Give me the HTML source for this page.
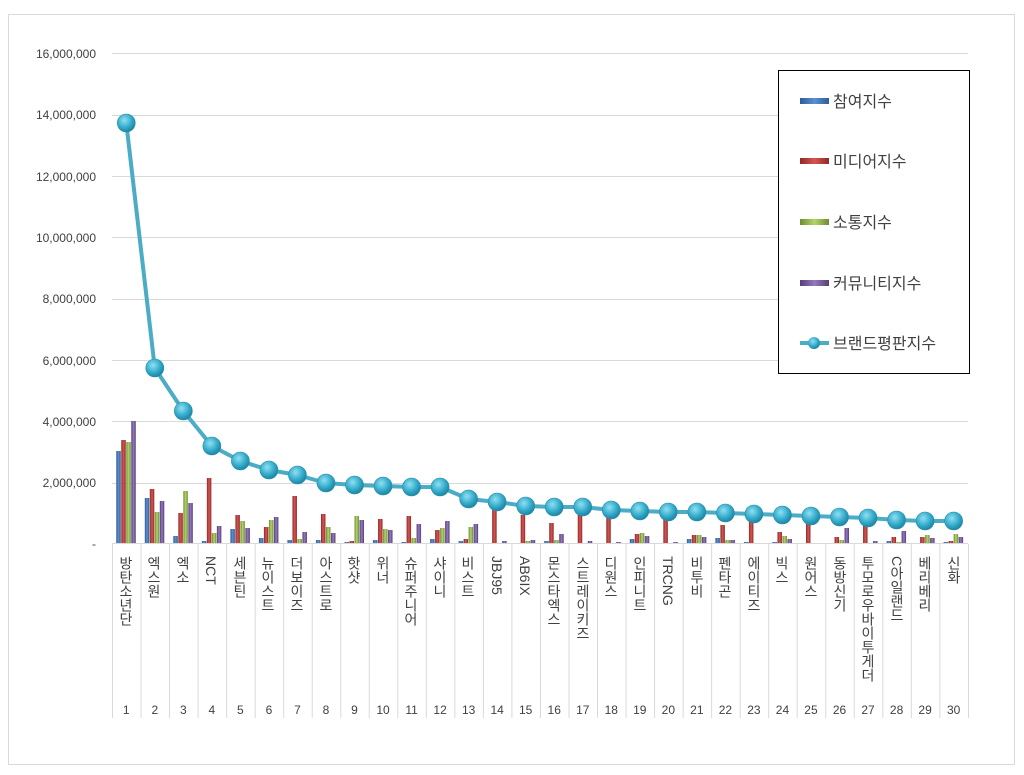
<!DOCTYPE html>
<html><head><meta charset="utf-8"><style>
body{margin:0;background:#fff}
svg{display:block;font-family:"Liberation Sans","Noto Sans CJK KR",sans-serif}
.y{font-size:12px;fill:#404040;text-anchor:end}
.c{font-size:14px;fill:#404040;writing-mode:vertical-rl;text-orientation:mixed}
.n{font-size:12px;fill:#404040;text-anchor:middle}
.l{font-size:16px;fill:#404040}
</style></head><body>
<svg id="s" width="1024" height="775" viewBox="0 0 1024 775">
<defs>
<linearGradient id="gb" x1="0" x2="1"><stop offset="0" stop-color="#2c5d98"/><stop offset=".5" stop-color="#5b8fd0"/><stop offset="1" stop-color="#2c5d98"/></linearGradient>
<linearGradient id="gr" x1="0" x2="1"><stop offset="0" stop-color="#8e2a27"/><stop offset=".5" stop-color="#d65552"/><stop offset="1" stop-color="#8e2a27"/></linearGradient>
<linearGradient id="gg" x1="0" x2="1"><stop offset="0" stop-color="#6e8c33"/><stop offset=".5" stop-color="#b2d46a"/><stop offset="1" stop-color="#6e8c33"/></linearGradient>
<linearGradient id="gp" x1="0" x2="1"><stop offset="0" stop-color="#553f7a"/><stop offset=".5" stop-color="#9479bd"/><stop offset="1" stop-color="#553f7a"/></linearGradient>
<radialGradient id="gm" cx=".4" cy=".35" r=".7"><stop offset="0" stop-color="#8fe0f2"/><stop offset=".6" stop-color="#31a9c9"/><stop offset="1" stop-color="#1b7d99"/></radialGradient>
</defs>
<rect x="8.5" y="14.5" width="1006" height="750" fill="#fff" stroke="#d9d9d9"/>
<g stroke="#d9d9d9" stroke-width="1">
<line x1="112" x2="968" y1="53.5" y2="53.5"/><line x1="112" x2="968" y1="115.5" y2="115.5"/><line x1="112" x2="968" y1="176.5" y2="176.5"/><line x1="112" x2="968" y1="237.5" y2="237.5"/><line x1="112" x2="968" y1="299.5" y2="299.5"/><line x1="112" x2="968" y1="360.5" y2="360.5"/><line x1="112" x2="968" y1="421.5" y2="421.5"/><line x1="112" x2="968" y1="483.5" y2="483.5"/><line x1="112" x2="968" y1="543.5" y2="543.5"/>
</g>
<g class="y">
<text x="96" y="58">16,000,000</text><text x="96" y="119">14,000,000</text><text x="96" y="181">12,000,000</text><text x="96" y="242">10,000,000</text><text x="96" y="303">8,000,000</text><text x="96" y="365">6,000,000</text><text x="96" y="426">4,000,000</text><text x="96" y="487">2,000,000</text><text x="96" y="548">-</text>
</g>
<g id="vl" stroke="#d9d9d9"></g>
<g id="bars"></g>
<g id="line"></g>
<g class="c">
<text x="126" y="556">방탄소년단</text><text x="154" y="556">엑스원</text><text x="183" y="556">엑소</text><text x="211" y="556">NCT</text><text x="240" y="556">세븐틴</text><text x="268" y="556">뉴이스트</text><text x="297" y="556">더보이즈</text><text x="326" y="556">아스트로</text><text x="354" y="556">핫샷</text><text x="383" y="556">위너</text><text x="411" y="556">슈퍼주니어</text><text x="440" y="556">샤이니</text><text x="468" y="556">비스트</text><text x="497" y="556">JBJ95</text><text x="525" y="556">AB6IX</text><text x="554" y="556">몬스타엑스</text><text x="583" y="556">스트레이키즈</text><text x="611" y="556">디원스</text><text x="640" y="556">인피니트</text><text x="668" y="556">TRCNG</text><text x="697" y="556">비투비</text><text x="725" y="556">펜타곤</text><text x="754" y="556">에이티즈</text><text x="782" y="556">빅스</text><text x="811" y="556">원어스</text><text x="840" y="556">동방신기</text><text x="868" y="556">투모로우바이투게더</text><text x="897" y="556">C아일랜드</text><text x="925" y="556">베리베리</text><text x="954" y="556">신화</text>
</g>
<g class="n" id="nums"></g>
<rect x="778.5" y="70.5" width="191" height="303" fill="#fff" stroke="#000"/>
<rect x="800" y="98" width="29" height="6" fill="url(#gb)"/><text class="l" x="833" y="107">참여지수</text>
<rect x="800" y="158" width="29" height="6" fill="url(#gr)"/><text class="l" x="833" y="167">미디어지수</text>
<rect x="800" y="219" width="29" height="6" fill="url(#gg)"/><text class="l" x="833" y="228">소통지수</text>
<rect x="800" y="280" width="29" height="6" fill="url(#gp)"/><text class="l" x="833" y="289">커뮤니티지수</text>
<line x1="800" x2="829" y1="343" y2="343" stroke="#4bacc6" stroke-width="4"/><circle cx="814" cy="343" r="6" fill="url(#gm)"/><text class="l" x="833" y="349">브랜드평판지수</text>
</svg>
<script>
var ns="http://www.w3.org/2000/svg";
function el(p,t,a){var e=document.createElementNS(ns,t);for(var k in a)e.setAttribute(k,a[k]);document.getElementById(p).appendChild(e);return e;}
var H=[[92,103,101,122],[45,54,31,42],[7,30,52,40],[2,65,10,17],[14,28,22,15],[5,16,23,26],[3,47,4,11],[3,29,16,10],[1,2,27,23],[3,24,14,13],[1,27,5,19],[4,13,15,22],[2,4,16,19],[0,38,0,2],[0,28,2,3],[2,20,3,9],[0,36,0,2],[0,32,0,1],[4,9,10,7],[0,30,0,1],[4,8,8,6],[5,18,3,3],[1,32,0,0],[1,11,7,4],[0,32,0,0],[0,6,3,15],[0,30,0,2],[2,6,1,12],[0,6,8,5],[1,2,9,6]];
var L=[123,368,411,446,461,470,475,483,485,486,487,487,499,502,506,507,507,510,511,512,512,513,514,515,516,517,518,520,521,521];
var g=["gb","gr","gg","gp"],w=28.53,pts=[];
for(var i=0;i<30;i++){var cx=112+w*(i+0.5);
el("vl","line",{x1:112+w*i+.5,x2:112+w*i+.5,y1:544,y2:718});
for(var j=0;j<4;j++)if(H[i][j]>0)el("bars","rect",{x:cx-10+j*5,y:543-H[i][j],width:4.5,height:H[i][j],fill:"url(#"+g[j]+")"});
pts.push(cx+","+L[i]);}
el("vl","line",{x1:968.5,x2:968.5,y1:544,y2:718});
el("line","polyline",{points:pts.join(" "),fill:"none",stroke:"#4bacc6","stroke-width":4,"stroke-linejoin":"round"});
for(var i=0;i<30;i++){var cx=112+w*(i+0.5);el("line","circle",{cx:cx,cy:L[i],r:9,fill:"url(#gm)",stroke:"#2a8fab","stroke-width":.6});
var t=el("nums","text",{x:cx,y:714});t.textContent=i+1;}
</script>
</body></html>
